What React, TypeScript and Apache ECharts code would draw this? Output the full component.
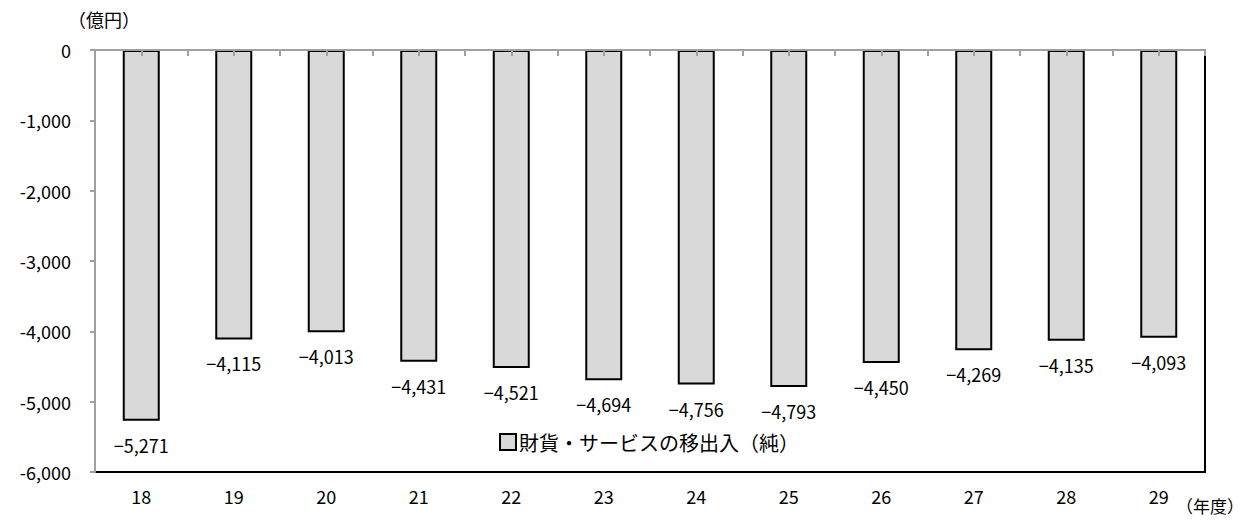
import React, { useEffect, useRef } from "react";
import * as echarts from "echarts";

const categories = ["18", "19", "20", "21", "22", "23", "24", "25", "26", "27", "28", "29"];
const values = [-5271, -4115, -4013, -4431, -4521, -4694, -4756, -4793, -4450, -4269, -4135, -4093];
const seriesName = "財貨・サービスの移出入（純）";
const unitLabel = "（億円）";
const xUnitLabel = "（年度）";

const FONT = '"Noto Sans CJK JP", "Noto Sans", sans-serif';

function fmt(n: number, minus: string): string {
  const a = Math.abs(n);
  const s = String(a).replace(/\B(?=(\d{3})+(?!\d))/g, ",");
  return n < 0 ? minus + s : s;
}

export default function App() {
  const ref = useRef<HTMLDivElement>(null);
  useEffect(() => {
    if (!ref.current) return;
    const chart = echarts.init(ref.current, undefined, { renderer: "svg" });
    chart.setOption({
      animation: false,
      backgroundColor: "#fff",
      textStyle: { fontFamily: FONT, color: "#000" },
      grid: {
        left: 95,
        right: 42,
        top: 50,
        bottom: 51,
        show: false,
      },
      legend: {
        show: true,
        data: [seriesName],
        left: 494,
        top: 427,
        itemWidth: 16,
        itemHeight: 16,
        itemGap: 4,
        icon: "rect",
        itemStyle: { color: "#d9d9d9", borderColor: "#000", borderWidth: 2 },
        textStyle: { fontFamily: FONT, fontSize: 20, color: "#000", padding: [0, 0, 0, -2] },
      },
      xAxis: [
        {
          type: "category",
          data: categories,
          position: "bottom",
          z: 3,
          axisLine: { show: true, onZero: false, lineStyle: { color: "#000", width: 2 } },
          axisTick: { show: false },
          axisLabel: { fontSize: 18, color: "#000", fontFamily: FONT, margin: 15 },
          splitLine: { show: false },
        },
        {
          type: "category",
          data: categories,
          position: "top",
          z: 4,
          axisLine: { show: true, onZero: false, lineStyle: { color: "#a0a0a0", width: 2 } },
          axisTick: { show: true, inside: true, length: 6, lineStyle: { color: "#a0a0a0", width: 2 } },
          axisLabel: { show: false },
        },
        {
          type: "category",
          data: categories,
          position: "top",
          z: 4,
          axisLine: { show: false, onZero: false },
          axisTick: { show: true, inside: true, alignWithLabel: true, length: 6, lineStyle: { color: "#a0a0a0", width: 2 } },
          axisLabel: { show: false },
        },
      ],
      yAxis: [
        {
          type: "value",
          min: -6000,
          max: 0,
          interval: 1000,
          z: 4,
          axisLine: { show: true, onZero: false, lineStyle: { color: "#a0a0a0", width: 2 } },
          axisTick: { show: true, length: 5, lineStyle: { color: "#a0a0a0", width: 2 } },
          splitLine: { show: false },
          axisLabel: {
            fontSize: 18,
            color: "#000",
            fontFamily: FONT,
            margin: 24,
            formatter: (v: number) => fmt(v, "-"),
          },
        },
        {
          type: "value",
          position: "right",
          min: -6000,
          max: 0,
          interval: 1000,
          z: 3,
          axisLine: { show: true, onZero: false, lineStyle: { color: "#000", width: 2 } },
          axisTick: { show: false },
          splitLine: { show: false },
          axisLabel: { show: false },
        },
      ],
      series: [
        {
          name: seriesName,
          type: "bar",
          xAxisIndex: 0,
          yAxisIndex: 0,
          data: values,
          barWidth: 37,
          itemStyle: { color: "#d9d9d9", borderColor: "#000", borderWidth: 2 },
          label: {
            show: true,
            position: "bottom",
            distance: 15,
            fontSize: 18,
            color: "#000",
            fontFamily: FONT,
            formatter: (p: any) => fmt(p.value, "−"),
          },
        },
      ],
      graphic: [
        {
          type: "text",
          left: 68,
          top: 10,
          style: { text: unitLabel, fontSize: 18, fill: "#000", fontFamily: FONT },
        },
        {
          type: "text",
          left: 1176,
          top: 497,
          style: { text: xUnitLabel, fontSize: 17, fill: "#000", fontFamily: FONT },
        },
      ],
    });
    return () => chart.dispose();
  }, []);
  return <div ref={ref} style={{ width: 1247, height: 523, margin: -8 }} />;
}
